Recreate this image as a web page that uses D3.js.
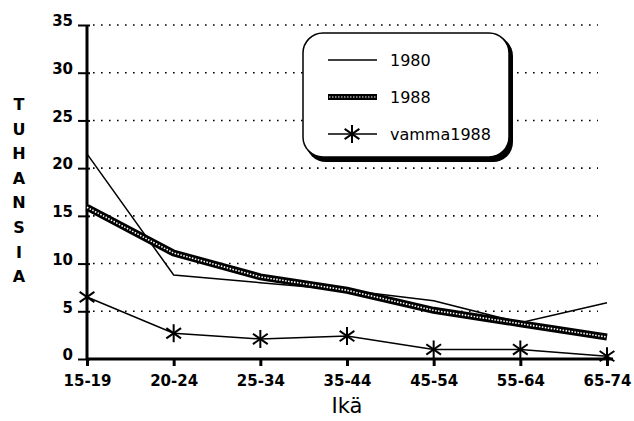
<!DOCTYPE html>
<meta charset='utf-8'>
<html>
  <style>
    body { margin: 0; background: #fff; }
    .tick text { font-family: "DejaVu Sans", sans-serif; font-weight: bold; font-size: 15px; fill: #000; }
    .legend text { font-family: "DejaVu Sans", sans-serif; font-size: 16px; fill: #000; }
    .ylabel { font-family: "DejaVu Sans", sans-serif; font-weight: bold; font-size: 16px; }
    .xlabel { font-family: "DejaVu Sans", sans-serif; font-size: 21px; }
  </style>
  <head>
    <script src="https://cdn.jsdelivr.net/npm/d3@7/dist/d3.min.js" charset="utf-8"></script>
  </head>
  <body>
    <div id="chart"></div>
    <script type="text/javascript">
      var ages = ['15-19', '20-24', '25-34', '35-44', '45-54', '55-64', '65-74'],
        v1980 = [21.5, 8.8, 8.0, 7.2, 6.1, 3.8, 5.9],
        v1988 = [15.9, 11.1, 8.6, 7.2, 5.1, 3.7, 2.3],
        vamma1988 = [6.5, 2.7, 2.1, 2.4, 1.0, 1.0, 0.3],
        yTicks = [0, 5, 10, 15, 20, 25, 30, 35],
        legendNames = ['1980', '1988', 'vamma1988'];

      var width = 634, height = 421,
        margin = {top: 25, left: 87, bottom: 62, right: 27},
        x = d3.scalePoint().domain(ages).range([margin.left, width - margin.right]),
        y = d3.scaleLinear().domain([0, 35]).range([height - margin.bottom, margin.top]);

      var svg = d3.select("#chart").append("svg")
        .attr("width", width)
        .attr("height", height);

      // dotted grid
      svg.selectAll(".grid").data(yTicks.filter(function(d){ return d > 0; }))
        .enter().append("line")
          .attr("class", "grid")
          .attr("x1", margin.left + 6)
          .attr("x2", 598)
          .attr("y1", function(d){ return y(d); })
          .attr("y2", function(d){ return y(d); })
          .attr("stroke", "#000")
          .attr("stroke-width", 1.6)
          .attr("stroke-dasharray", "1.6,6.4");

      var yAxis = d3.axisLeft(y).tickValues(yTicks).tickSize(9).tickPadding(5);
      svg.append("g")
        .attr("transform", "translate(" + margin.left + ",0)")
        .call(yAxis)
        .call(function(g){
          g.select(".domain").attr("stroke-width", 3).attr("d", "M0," + y(0) + "V" + y(35));
          g.selectAll(".tick line").attr("stroke-width", 2).attr("x2", 3).attr("x1", -9);
          g.selectAll(".tick text").attr("dy", "0.05em");
        });

      var xAxis = d3.axisBottom(x).tickSize(7).tickPadding(9);
      svg.append("g")
        .attr("transform", "translate(0," + y(0) + ")")
        .call(xAxis)
        .call(function(g){
          g.select(".domain").attr("stroke-width", 3).attr("d", "M" + margin.left + ",0H" + (x('65-74') + 6));
          g.selectAll(".tick line").attr("stroke-width", 3);
        });

      var line = d3.line()
        .x(function(d, i){ return x(ages[i]); })
        .y(function(d){ return y(d); });

      // 1980 thin line
      svg.append("path").datum(v1980)
        .attr("d", line).attr("fill", "none")
        .attr("stroke", "#000").attr("stroke-width", 1.5);

      // 1988 thick line with dotted white core
      svg.append("path").datum(v1988)
        .attr("d", line).attr("fill", "none")
        .attr("stroke", "#000").attr("stroke-width", 7);
      svg.append("path").datum(v1988)
        .attr("d", line).attr("fill", "none")
        .attr("stroke", "#fff").attr("stroke-width", 1.6)
        .attr("stroke-dasharray", "1.5,1.5");

      // vamma1988 line with asterisks
      svg.append("path").datum(vamma1988)
        .attr("d", line).attr("fill", "none")
        .attr("stroke", "#000").attr("stroke-width", 1.5);

      function star(g, cx, cy, r) {
        [0, 55, 125].forEach(function(a){
          var rad = a * Math.PI / 180;
          g.append("line")
            .attr("x1", cx - r * Math.sin(rad)).attr("y1", cy - r * Math.cos(rad))
            .attr("x2", cx + r * Math.sin(rad)).attr("y2", cy + r * Math.cos(rad))
            .attr("stroke", "#000").attr("stroke-width", 2);
        });
      }
      var stars = svg.append("g");
      vamma1988.forEach(function(d, i){ star(stars, x(ages[i]), y(d), 9); });

      // legend
      var legend = svg.append("g").attr("class", "legend");
      legend.append("rect")
        .attr("x", 306).attr("y", 36).attr("width", 207).attr("height", 126)
        .attr("rx", 20).attr("ry", 20).attr("fill", "#000");
      legend.append("rect")
        .attr("x", 303).attr("y", 33).attr("width", 206).attr("height", 124)
        .attr("rx", 20).attr("ry", 20)
        .attr("fill", "#fff").attr("stroke", "#000").attr("stroke-width", 1.5);

      var rows = [60, 97, 134];
      legendNames.forEach(function(name, i){
        var yy = rows[i];
        if (i === 1) {
          legend.append("line").attr("x1", 328).attr("x2", 377).attr("y1", yy).attr("y2", yy)
            .attr("stroke", "#000").attr("stroke-width", 6);
          legend.append("line").attr("x1", 329).attr("x2", 376).attr("y1", yy).attr("y2", yy)
            .attr("stroke", "#fff").attr("stroke-width", 1.2).attr("stroke-dasharray", "1.5,1.5");
        } else {
          legend.append("line").attr("x1", 328).attr("x2", 377).attr("y1", yy).attr("y2", yy)
            .attr("stroke", "#000").attr("stroke-width", 1.5);
        }
        if (i === 2) star(legend, 352, yy, 9);
        legend.append("text").attr("x", 390).attr("y", yy).attr("dy", "0.36em").text(name);
      });

      // vertical y label
      svg.append("text").attr("class", "ylabel")
        .selectAll("tspan").data("TUHANSIA".split(""))
        .enter().append("tspan")
          .attr("x", 19).attr("text-anchor", "middle")
          .attr("y", function(d, i){ return 110 + i * 24.6; })
          .text(function(d){ return d; });

      svg.append("text").attr("class", "xlabel")
        .attr("x", x('35-44')).attr("y", 413)
        .attr("text-anchor", "middle").text("Ikä");
    </script>
  </body>
</html>
